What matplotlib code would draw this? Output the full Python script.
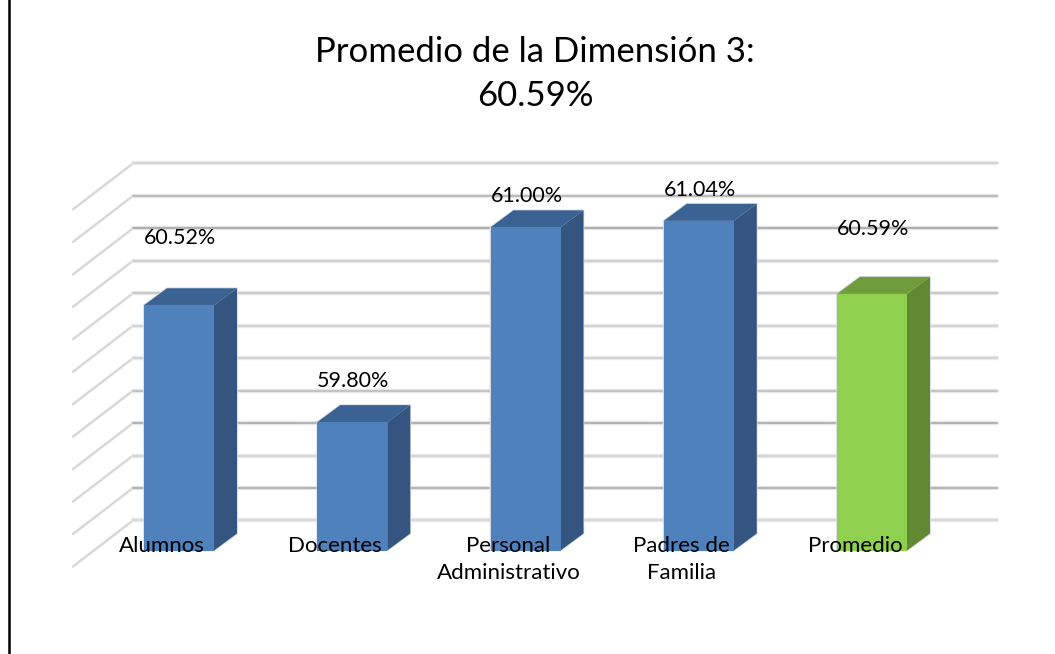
#!/usr/bin/env python3
"""Promedio de la Dimensión 3: columnas con aspecto 3D"""

import numpy as np
import matplotlib
matplotlib.use("Agg")
import matplotlib.pyplot as plt

categorias = ["Alumnos", "Docentes", "Personal\nAdministrativo", "Padres de\nFamilia", "Promedio"]
valores = [60.52, 59.80, 61.00, 61.04, 60.59]
etiquetas = ["60.52%", "59.80%", "61.00%", "61.04%", "60.59%"]
niveles = [59.0, 59.2, 59.4, 59.6, 59.8, 60.0, 60.2, 60.4, 60.6, 60.8, 61.0, 61.2]
titulo = "Promedio de la Dimensión 3:\n60.59%"

# ── escala: pixeles por unidad ──
W, H = 1055, 654
PX_CAT = 173.25
PX_VAL = 162.3
X0_PX = 179.0      # centro de la primera barra
BASE_PX = 550.5    # base frontal de las barras
BASE_VAL = 59.009

BAR_W = 70.0 / PX_CAT
DX = 23.0 / PX_CAT    # profundidad de la barra
DY = 17.0 / PX_VAL

# pared del fondo y piso lateral
WALL_L = (133 - X0_PX) / PX_CAT
WALL_R = (997 - X0_PX) / PX_CAT
WALL_DX = 60.0 / PX_CAT
WALL_DY = 46.0 / PX_VAL
WALL_UP = 31.5 / PX_VAL

# separacion de la etiqueta sobre cada barra (en unidades de valor)
LABEL_GAP = np.array([67, 41, 31, 31, 65]) / PX_VAL
GRID_TONOS = ["#d8d8d8", "#b4b4b4", "#d4d4d4", "#b4b4b4", "#c4c4c4", "#d4d4d4",
              "#d4d4d4", "#c8c8c8", "#d0d0d0", "#b0b0b0", "#bcbcbc", "#d4d4d4"]
COLORES = [("#4f81bd", "#3a6393", "#34557f")] * 4 + [("#8fd14f", "#6f9d3c", "#618833")]

plt.rcParams["font.family"] = ["Lato", "DejaVu Sans"]


def main():
    fig = plt.figure(figsize=(W / 100, H / 100), dpi=100)
    ax = fig.add_axes([0, 0, 1, 1])
    ax.set_xlim(-X0_PX / PX_CAT, (W - X0_PX) / PX_CAT)
    ax.set_ylim(BASE_VAL - (H - BASE_PX) / PX_VAL, BASE_VAL + BASE_PX / PX_VAL)
    ax.axis("off")

    # linea vertical negra a la izquierda
    ax.axvline(-X0_PX / PX_CAT + 9.0 / PX_CAT, color="black", lw=1.8, zorder=1)

    # cuadricula: lateral claro y pared con tonos
    for nivel, tono in zip(niveles, GRID_TONOS):
        y = nivel + WALL_UP
        ax.plot([WALL_L - WALL_DX, WALL_L], [y - WALL_DY, y], color="#d8d8d8", lw=1.8,
                solid_capstyle="round", zorder=2)
        ax.plot([WALL_L, WALL_R], [y, y], color="#ececec", lw=3.2,
                solid_capstyle="round", zorder=2)
        ax.plot([WALL_L, WALL_R], [y, y], color=tono, lw=1.6,
                solid_capstyle="round", zorder=2)

    xpos = np.arange(len(categorias))
    for x, v, (frente, tapa, lado) in zip(xpos, valores, COLORES):
        izq = x - BAR_W / 2
        der = x + BAR_W / 2
        # halo suave alrededor de la barra
        ax.fill([izq, izq + DX, der + DX, der + DX, der, izq],
                [v, v + DY, v + DY, BASE_VAL + DY, BASE_VAL, BASE_VAL],
                color="#d5dbe3", ec="#d5dbe3", lw=1.2, zorder=3)
        ax.fill([der, der + DX, der + DX, der], [BASE_VAL, BASE_VAL + DY, v + DY, v],
                color=lado, ec="none", zorder=4)
        ax.fill([izq, izq + DX, der + DX, der], [v, v + DY, v + DY, v],
                color=tapa, ec="none", zorder=4)
        ax.bar(x, v - BASE_VAL, BAR_W, bottom=BASE_VAL, color=frente, ec="none", zorder=5)

    for x, v, gap, txt in zip(xpos, valores, LABEL_GAP, etiquetas):
        ax.text(x + 1.0 / PX_CAT, v + gap, txt, ha="center", va="center",
                fontsize=15.5, color="black", zorder=6)

    for x, cat in zip(xpos, categorias):
        ax.text(x - 17.0 / PX_CAT, BASE_VAL + 15.0 / PX_VAL, cat, ha="center", va="top",
                fontsize=16, color="black", linespacing=1.45, zorder=6)

    fig.text(535 / W, 1 - 74 / H, titulo, ha="center", va="center", fontsize=25,
             color="black", linespacing=1.45)

    fig.savefig("out.png", dpi=100, facecolor="white")


if __name__ == "__main__":
    main()
